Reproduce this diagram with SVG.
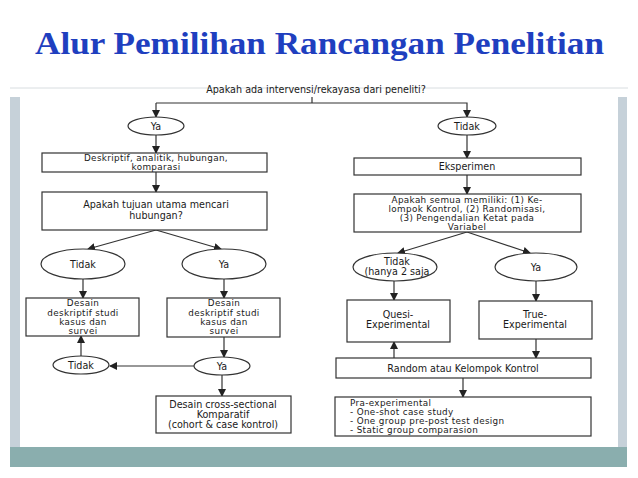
<svg xmlns="http://www.w3.org/2000/svg" width="638" height="478" viewBox="0 0 638 478">
<defs>
<marker id="ah" markerWidth="8" markerHeight="8" refX="7" refY="4" orient="auto" markerUnits="userSpaceOnUse"><path d="M0,0 L8,4 L0,8 Z" fill="#222"/></marker>
<style>
.b{fill:#fff;stroke:#333;stroke-width:1.2}
.t{font-family:"DejaVu Sans","Liberation Sans",sans-serif;font-size:9.6px;fill:#1a1a1a;text-anchor:middle}
.s{font-size:8.8px;letter-spacing:0.35px}
.l{text-anchor:start}
.c{fill:none;stroke:#333;stroke-width:1.2}
.a{marker-end:url(#ah)}
</style>
</defs>
<rect width="638" height="478" fill="#fff"/>
<rect x="10" y="97" width="10" height="350" fill="#c6d1d9"/>
<rect x="618" y="97" width="9" height="350" fill="#c6d1d9"/>
<rect x="10" y="447" width="617" height="20" fill="#8aaeae"/>
<line x1="10" y1="88" x2="628" y2="88" stroke="#d8dde0" stroke-width="1"/>
<text x="35" y="54" font-family="Liberation Serif,serif" font-weight="bold" font-size="31" fill="#1f3fbf" textLength="569" lengthAdjust="spacingAndGlyphs">Alur Pemilihan Rancangan Penelitian</text>
<g id="connectors">
<path class="c" d="M312,97 V103"/>
<path class="c a" d="M156,103 H467 V117"/>
<path class="c a" d="M156,103 V117"/>
<path class="c a" d="M156,135 V153"/>
<path class="c a" d="M156,172 V192"/>
<path class="c a" d="M156,230 L88,249"/>
<path class="c a" d="M156,230 L221,249"/>
<path class="c a" d="M83,279 V298"/>
<path class="c a" d="M224,279 V298"/>
<path class="c a" d="M224,337 V357"/>
<path class="c a" d="M194,366 H110"/>
<path class="c a" d="M81,356 V336"/>
<path class="c a" d="M222,375 V396"/>
<path class="c a" d="M467,135 V158"/>
<path class="c a" d="M467,175 V194"/>
<path class="c a" d="M467,232 L398,253"/>
<path class="c a" d="M467,232 L530,253"/>
<path class="c a" d="M394,281 V300"/>
<path class="c a" d="M536,281 V301"/>
<path class="c a" d="M536,339 V358"/>
<path class="c a" d="M394,358 V342"/>
<path class="c a" d="M463,378 V397"/>
</g>
<g id="q1"><text class="t" x="316" y="93">Apakah ada intervensi/rekayasa dari peneliti?</text></g>
<g id="ya1"><ellipse class="b" cx="156" cy="126" rx="28" ry="9"/><text class="t" x="156" y="130">Ya</text></g>
<g id="tidak1"><ellipse class="b" cx="467" cy="126" rx="29" ry="9"/><text class="t" x="467" y="130">Tidak</text></g>
<g id="deskriptif"><rect class="b" x="42" y="153" width="225" height="19"/><text class="t s" x="156" y="161">Deskriptif, analitik, hubungan,</text><text class="t s" x="156" y="170">komparasi</text></g>
<g id="tujuan"><rect class="b" x="42" y="192" width="225" height="38"/><text class="t" x="156" y="208">Apakah tujuan utama mencari</text><text class="t" x="156" y="219">hubungan?</text></g>
<g id="tidak2"><ellipse class="b" cx="83" cy="264" rx="42" ry="15"/><text class="t" x="83" y="268">Tidak</text></g>
<g id="ya2"><ellipse class="b" cx="224" cy="264" rx="42" ry="15"/><text class="t" x="224" y="268">Ya</text></g>
<g id="desain1"><rect class="b" x="26" y="298" width="113" height="38"/><text class="t s" x="83" y="306">Desain</text><text class="t s" x="83" y="315.5">deskriptif studi</text><text class="t s" x="83" y="325">kasus dan</text><text class="t s" x="83" y="334">survei</text></g>
<g id="desain2"><rect class="b" x="167" y="298" width="113" height="39"/><text class="t s" x="224" y="306">Desain</text><text class="t s" x="224" y="315.5">deskriptif studi</text><text class="t s" x="224" y="325">kasus dan</text><text class="t s" x="224" y="334">survei</text></g>
<g id="tidak3"><ellipse class="b" cx="81" cy="365" rx="28" ry="9"/><text class="t" x="81" y="369">Tidak</text></g>
<g id="ya3"><ellipse class="b" cx="222" cy="366" rx="28" ry="9"/><text class="t" x="222" y="370">Ya</text></g>
<g id="cross"><rect class="b" x="156" y="396" width="135" height="37"/><text class="t" x="223" y="408">Desain cross-sectional</text><text class="t" x="223" y="418">Komparatif</text><text class="t" x="223" y="428">(cohort &amp; case kontrol)</text></g>
<g id="eksperimen"><rect class="b" x="354" y="158" width="227" height="17"/><text class="t" x="467" y="170">Eksperimen</text></g>
<g id="semua"><rect class="b" x="354" y="194" width="227" height="38"/><text class="t s" x="467" y="203">Apakah semua memiliki: (1) Ke-</text><text class="t s" x="467" y="212">lompok Kontrol, (2) Randomisasi,</text><text class="t s" x="467" y="221">(3) Pengendalian Ketat pada</text><text class="t s" x="467" y="230">Variabel</text></g>
<g id="tidak4"><ellipse class="b" cx="395" cy="267" rx="42" ry="14"/><text class="t" x="397" y="265">Tidak</text><text class="t" x="397" y="275">(hanya 2 saja</text></g>
<g id="ya4"><ellipse class="b" cx="536" cy="267" rx="41" ry="14"/><text class="t" x="536" y="271">Ya</text></g>
<g id="quesi"><rect class="b" x="347" y="300" width="103" height="42"/><text class="t" x="398" y="318">Quesi-</text><text class="t" x="398" y="328">Experimental</text></g>
<g id="true"><rect class="b" x="479" y="301" width="113" height="38"/><text class="t" x="535" y="318">True-</text><text class="t" x="535" y="328">Experimental</text></g>
<g id="random"><rect class="b" x="336" y="358" width="255" height="20"/><text class="t" x="463" y="372">Random atau Kelompok Kontrol</text></g>
<g id="pra"><rect class="b" x="335" y="397" width="256" height="39"/><text class="t s l" x="350" y="406">Pra-experimental</text><text class="t s l" x="350" y="415">-  One-shot case study</text><text class="t s l" x="350" y="424">-  One group pre-post test design</text><text class="t s l" x="350" y="433">-  Static group comparasion</text></g>
</svg>
